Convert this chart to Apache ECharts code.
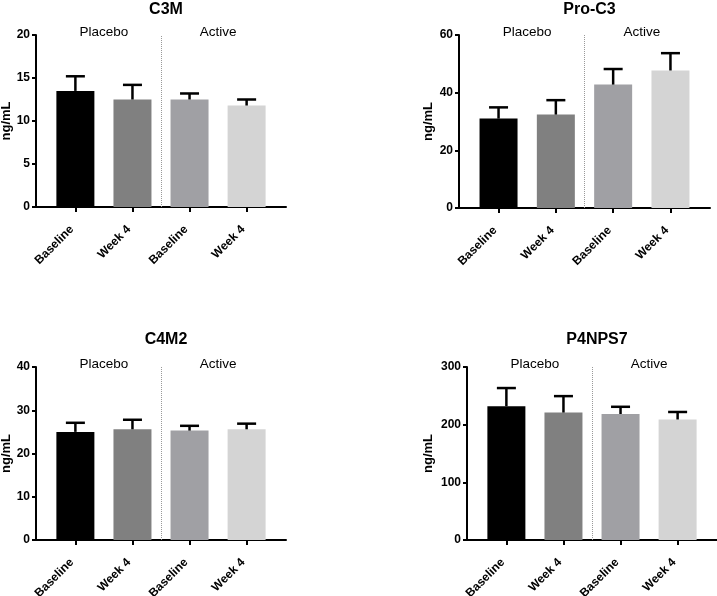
<!DOCTYPE html>
<html>
<head>
<meta charset="utf-8">
<script src="https://cdn.jsdelivr.net/npm/echarts@6/dist/echarts.min.js"></script>
<style>html,body{margin:0;padding:0;background:#fff;}#main{width:717px;height:596px;}</style>
</head>
<body>
<div id="main"></div>
<script>
// ---- data ----
var categories = ['Baseline', 'Week 4', 'Baseline', 'Week 4'];
var groupNames = ['Placebo', 'Active'];
var panelTitles = ['C3M', 'Pro-C3', 'C4M2', 'P4NPS7'];
var c3mMean = [13.5, 12.5, 12.5, 11.8];
var c3mUpper = [15.2, 14.2, 13.2, 12.5];
var proC3Mean = [31.0, 32.4, 42.8, 47.7];
var proC3Upper = [34.9, 37.4, 48.2, 53.7];
var c4m2Mean = [25.0, 25.6, 25.3, 25.6];
var c4m2Upper = [27.1, 27.8, 26.4, 26.9];
var p4nps7Mean = [232, 221, 218.5, 209];
var p4nps7Upper = [263.5, 249.5, 231, 222];
var yMaxes = [20, 60, 40, 300];
var yIntervals = [5, 20, 10, 100];
var yAxisName = 'ng/mL';

// ---- styles / layout ----
var barColors = ['#000000', '#808080', '#a0a0a4', '#d4d4d4'];
var FONT = '"Liberation Sans", Arial, sans-serif';
var grids = [
  {left: 36, top: 35, width: 250, height: 172},
  {left: 459, top: 35, width: 251, height: 173},
  {left: 36, top: 367, width: 250, height: 173},
  {left: 467, top: 367, width: 250, height: 173}
];
var nameGaps = [22, 24, 22, 32];
var titleTops = [-3, -3, 327, 327];

var means = [c3mMean, proC3Mean, c4m2Mean, p4nps7Mean];
var uppers = [c3mUpper, proC3Upper, c4m2Upper, p4nps7Upper];

var catIdx = categories.map(function (c, i) { return i; });

var option = {
  animation: false,
  backgroundColor: '#ffffff',
  textStyle: {fontFamily: FONT},
  title: [], grid: [], xAxis: [], yAxis: [], series: []
};

panelTitles.forEach(function (t, p) {
  var g = grids[p];
  option.grid.push({
    left: g.left, top: g.top, width: g.width, height: g.height,
    containLabel: false, outerBoundsMode: 'none'
  });
  option.title.push({
    text: t, left: g.left + g.width / 2, top: titleTops[p], textAlign: 'center',
    textStyle: {fontFamily: FONT, fontSize: 16, fontWeight: 'bold', color: '#000'}
  });
  option.xAxis.push({
    type: 'value', gridIndex: p, min: -0.69, max: 3.69,
    splitLine: {show: false},
    axisLine: {show: true, onZero: false, lineStyle: {color: '#000', width: 2}},
    axisTick: {show: true, customValues: catIdx, length: 5, lineStyle: {color: '#000', width: 2}},
    axisLabel: {
      customValues: catIdx, rotate: 45, margin: 17, padding: [0, 5, 0, 0],
      formatter: function (v) { return categories[Math.round(v)]; },
      fontFamily: FONT, fontSize: 12, fontWeight: 'bold', color: '#000'
    }
  });
  option.yAxis.push({
    type: 'value', gridIndex: p, min: 0, max: yMaxes[p], interval: yIntervals[p],
    name: yAxisName, nameLocation: 'middle', nameGap: nameGaps[p],
    nameTextStyle: {fontFamily: FONT, fontSize: 13, fontWeight: 'bold', color: '#000'},
    splitLine: {show: false},
    axisLine: {show: true, onZero: false, lineStyle: {color: '#000', width: 2}},
    axisTick: {show: true, length: 4, lineStyle: {color: '#000', width: 2}},
    axisLabel: {margin: 6, fontFamily: FONT, fontSize: 12, fontWeight: 'bold', color: '#000'}
  });
  // bars
  option.series.push({
    type: 'bar', xAxisIndex: p, yAxisIndex: p, barWidth: 38,
    data: means[p].map(function (v, i) {
      return {value: [i, v], itemStyle: {color: barColors[i]}};
    }),
    markLine: {
      silent: true, symbol: 'none', label: {show: false},
      lineStyle: {color: '#999', type: 'dotted', width: 1},
      data: [{xAxis: 1.5}]
    },
    z: 2
  });
  // error bars (upper only)
  option.series.push({
    type: 'custom', xAxisIndex: p, yAxisIndex: p, z: 3,
    data: means[p].map(function (v, i) { return [i, v, uppers[p][i]]; }),
    renderItem: function (params, api) {
      var x = api.value(0);
      var p0 = api.coord([x, api.value(1)]);
      var p1 = api.coord([x, api.value(2)]);
      var style = {stroke: '#000', lineWidth: 2.5};
      return {
        type: 'group',
        children: [
          {type: 'line', shape: {x1: p0[0], y1: p0[1], x2: p1[0], y2: p1[1]}, style: style},
          {type: 'line', shape: {x1: p1[0] - 9.5, y1: p1[1], x2: p1[0] + 9.5, y2: p1[1]}, style: style}
        ]
      };
    }
  });
  // group headers
  option.series.push({
    type: 'custom', xAxisIndex: p, yAxisIndex: p, z: 4, silent: true,
    data: groupNames.map(function (n, gi) { return [gi * 2 + 0.5, yMaxes[p], gi]; }),
    renderItem: function (params, api) {
      var pt = api.coord([api.value(0), api.value(1)]);
      return {
        type: 'text', x: pt[0], y: pt[1] + 4,
        style: {
          text: groupNames[api.value(2)], fill: '#000',
          font: '13.5px ' + FONT,
          align: 'center', verticalAlign: 'bottom',
          textAlign: 'center', textVerticalAlign: 'bottom'
        }
      };
    }
  });
});

var chart = echarts.init(document.getElementById('main'), null, {renderer: 'canvas'});
chart.setOption(option);
</script>
</body>
</html>
